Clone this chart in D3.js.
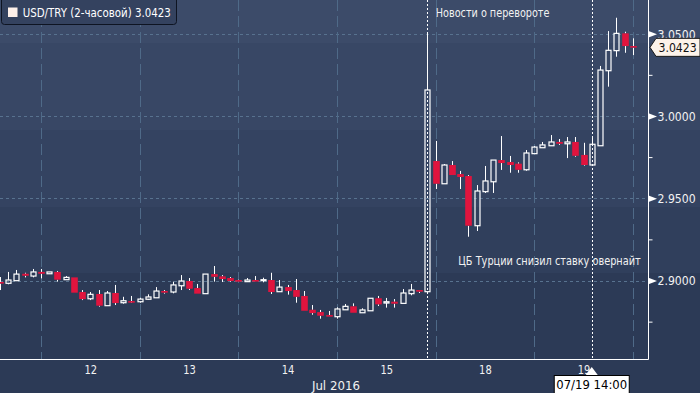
<!DOCTYPE html>
<html><head><meta charset="utf-8">
<script src="https://cdn.jsdelivr.net/npm/d3@7"></script>
<style>
html,body{margin:0;padding:0;background:#2c3a56;}
svg{display:block;}
text{font-family:"DejaVu Sans Condensed","Liberation Sans Narrow","DejaVu Sans",sans-serif;}
</style></head>
<body>
<svg id="c" width="700" height="393"></svg>
<script>
// ---- data ----
const seriesName = "USD/TRY (2-часовой)";
const open  = [2.8991,2.8983,2.8999,2.9041,2.9027,2.9052,2.9041,2.9052,2.9005,2.9019,2.8930,2.8889,2.8918,2.8847,2.8924,2.8865,2.8875,2.8871,2.8886,2.8895,2.8936,2.8930,2.8968,2.8997,2.8954,2.8920,2.9039,2.9025,2.9015,2.9003,2.8993,2.9003,2.9001,2.9003,2.8932,2.8960,2.8942,2.8906,2.8822,2.8808,2.8790,2.8780,2.8822,2.8843,2.8804,2.8816,2.8892,2.8863,2.8871,2.8861,2.8920,2.8942,2.8932,2.9726,2.9588,2.9702,2.9647,2.9635,2.9333,2.9540,2.9600,2.9732,2.9720,2.9710,2.9673,2.9771,2.9807,2.9819,2.9842,2.9831,2.9842,2.9763,2.9702,2.9819,3.0275,3.0397,3.0502,3.0425];
const high  = [2.9021,2.9052,2.9064,2.9047,2.9070,2.9070,2.9052,2.9058,2.9027,2.9019,2.8942,2.8930,2.8942,2.8936,2.8973,2.8901,2.8906,2.8895,2.8916,2.8960,2.8942,2.8993,2.9033,2.9015,2.8979,2.9039,2.9088,2.9033,2.9021,2.9005,2.9015,2.9027,2.9017,2.9047,2.9003,2.8973,2.9009,2.8936,2.8851,2.8821,2.8815,2.8837,2.8857,2.8861,2.8831,2.8892,2.8906,2.8894,2.8887,2.8948,2.8979,2.8942,3.0510,2.9848,2.9708,2.9726,2.9666,2.9641,2.9580,2.9696,2.9732,2.9878,2.9757,2.9718,2.9793,2.9817,2.9842,2.9884,2.9860,2.9872,2.9872,2.9837,2.9878,3.0304,3.0516,3.0597,3.0512,3.0472];
const low   = [2.8942,2.8977,2.8999,2.9019,2.9019,2.9013,2.9041,2.8993,2.9003,2.8926,2.8881,2.8881,2.8841,2.8847,2.8851,2.8859,2.8869,2.8865,2.8883,2.8895,2.8920,2.8922,2.8942,2.8942,2.8920,2.8920,2.8993,2.8991,2.8993,2.8993,2.8991,2.8993,2.8989,2.8918,2.8932,2.8914,2.8865,2.8816,2.8792,2.8768,2.8780,2.8768,2.8821,2.8804,2.8804,2.8816,2.8845,2.8835,2.8835,2.8861,2.8910,2.8924,2.8932,2.9556,2.9588,2.9641,2.9556,2.9266,2.9301,2.9532,2.9532,2.9672,2.9655,2.9655,2.9667,2.9771,2.9807,2.9819,2.9824,2.9744,2.9752,2.9698,2.9702,2.9819,3.0178,3.0360,3.0384,3.0370];
const close = [2.8982,2.9003,2.9039,2.9029,2.9052,2.9041,2.9052,2.9005,2.9019,2.8926,2.8887,2.8916,2.8847,2.8924,2.8863,2.8877,2.8871,2.8887,2.8900,2.8936,2.8932,2.8973,2.8997,2.8950,2.8920,2.9039,2.9023,2.9009,2.8997,2.8993,2.9003,2.8999,2.9005,2.8930,2.8960,2.8936,2.8901,2.8816,2.8802,2.8786,2.8786,2.8827,2.8843,2.8804,2.8821,2.8892,2.8855,2.8871,2.8859,2.8924,2.8942,2.8932,3.0158,2.9588,2.9702,2.9641,2.9629,2.9333,2.9544,2.9605,2.9732,2.9714,2.9702,2.9673,2.9775,2.9811,2.9824,2.9842,2.9831,2.9842,2.9758,2.9702,2.9828,3.0279,3.0399,3.0502,3.0425,3.0423];
const dayLabels = ["12","13","14","15","18","19"];
const dayCenterIdx = [11,23,35,47,59,71];
const dayBoundaryIdx = [5,17,29,41,53,65,77];
const monthLabel = "Jul 2016";
const yMajor = [2.90,2.95,3.00,3.05];
const yMinor = [2.875,2.925,2.975,3.025];
const newsIdx = 52, newsText = "Новости о перевороте";
const cbText = "ЦБ Турции снизил ставку овернайт";
const crossIdx = 72, crossLabel = "07/19 14:00";

// ---- layout ----
const svg = d3.select("#c");
const plotR = 648.5, plotB = 359.5;
const x = d3.scaleLinear().domain([0,77]).range([-0.1,632.84]);
const y = d3.scaleLinear().domain([2.85229,3.07048]).range([359,0]);
const RED = "#e0143e";

// background bands
const bands = [[0,43,"#3c4b69"],[43,130,"#384765"],[130,207,"#344361"],[207,273,"#303f5c"],[273,393,"#2c3a56"]];
svg.selectAll("rect.bg").data(bands).join("rect").attr("class","bg")
  .attr("x",0).attr("y",d=>d[0]).attr("width",700).attr("height",d=>d[1]-d[0]).attr("fill",d=>d[2]);

// grid
const g = svg.append("g");
g.selectAll("line.hg").data(yMajor).join("line")
  .attr("x1",0).attr("x2",plotR).attr("y1",d=>Math.round(y(d))+0.5).attr("y2",d=>Math.round(y(d))+0.5)
  .attr("stroke","#58728f").attr("stroke-dasharray","3,3").attr("stroke-width",1);
g.selectAll("line.vg").data(dayBoundaryIdx).join("line")
  .attr("x1",d=>Math.round(x(d))+0.5).attr("x2",d=>Math.round(x(d))+0.5).attr("y1",0).attr("y2",plotB)
  .attr("stroke","#4f6a88").attr("stroke-dasharray","11,5").attr("stroke-width",1);

// dotted event lines
[newsIdx, crossIdx].forEach(i=>{
  svg.append("line").attr("x1",Math.round(x(i))+0.5).attr("x2",Math.round(x(i))+0.5)
    .attr("y1",0).attr("y2",plotB).attr("stroke","#ffffff").attr("stroke-width",1).attr("stroke-dasharray","2,2");
});

// candles
const data = open.map((o,i)=>({i,o,h:high[i],l:low[i],c:close[i]}));
const cg = svg.append("g");
data.forEach(d=>{
  const cx = Math.round(x(d.i))+0.5;
  const up = d.c >= d.o;
  const top = y(Math.max(d.o,d.c)), bot = y(Math.min(d.o,d.c));
  let bh = Math.max(up?1.0:1.6, bot-top);
  const yt = up ? top : top;
  // wicks
  cg.append("line").attr("x1",cx).attr("x2",cx).attr("y1",y(d.h)).attr("y2",yt)
    .attr("stroke","#fff").attr("stroke-width",1);
  cg.append("line").attr("x1",cx).attr("x2",cx).attr("y1",yt+bh).attr("y2",y(d.l))
    .attr("stroke","#fff").attr("stroke-width",1);
  if(up){
    cg.append("rect").attr("x",cx-2.5).attr("y",yt).attr("width",5).attr("height",bh)
      .attr("fill","none").attr("stroke","#fff").attr("stroke-width",1.2);
  } else {
    cg.append("rect").attr("x",cx-3.3).attr("y",yt).attr("width",6.6).attr("height",bh)
      .attr("fill",RED);
  }
});

// frame
svg.append("line").attr("x1",0).attr("x2",plotR).attr("y1",plotB).attr("y2",plotB).attr("stroke","#fff");
svg.append("line").attr("x1",plotR).attr("x2",plotR).attr("y1",0).attr("y2",plotB).attr("stroke","#fff");

function fitText(sel, perChar){ sel.each(function(){ const t=d3.select(this); const s=t.text(); t.attr("textLength",s.length*perChar).attr("lengthAdjust","spacingAndGlyphs"); }); }

// right axis
const yAx = d3.axisRight(y).tickValues(yMajor).tickFormat(d3.format(".4f")).tickSize(0).tickPadding(9);
const ya = svg.append("g").attr("transform",`translate(${plotR},0)`).call(yAx);
ya.select(".domain").remove();
ya.selectAll(".tick text").attr("fill","#f2f2f2").attr("font-size","12px").attr("dy","0.36em").call(fitText,6.35);
ya.selectAll(".tick").append("path").attr("d","M0,-3.2L8.5,0L0,3.2Z").attr("fill","#fff");
const yMin = d3.axisRight(y).tickValues(yMinor).tickFormat("").tickSize(4);
const ym = svg.append("g").attr("transform",`translate(${plotR},0)`).call(yMin);
ym.select(".domain").remove();
ym.selectAll(".tick line").attr("stroke","#fff");

// bottom axis
const xAx = d3.axisBottom(x).tickValues(dayCenterIdx).tickFormat((d,i)=>dayLabels[i]).tickSize(0).tickPadding(6);
const xa = svg.append("g").attr("transform",`translate(0,${plotB})`).call(xAx);
xa.select(".domain").remove();
xa.selectAll(".tick text").attr("fill","#f2f2f2").attr("font-size","12px").call(fitText,6.3);
svg.append("text").attr("x",x(41)-1).attr("y",390).attr("text-anchor","middle").attr("fill","#f2f2f2")
  .attr("font-size","12px").text(monthLabel).call(fitText,6.0);

// annotations
svg.append("text").attr("x",x(newsIdx)+8.5).attr("y",16.5).attr("fill","#f2f2f2").attr("font-size","12px")
  .text(newsText).call(fitText,5.68);
svg.append("text").attr("x",458.3).attr("y",265).attr("fill","#f2f2f2").attr("font-size","12px")
  .text(cbText).call(fitText,5.7);

// legend
svg.append("rect").attr("x",1.5).attr("y",-4).attr("width",175).attr("height",28.5).attr("rx",3)
  .attr("fill","#34425f").attr("stroke","#0e1422").attr("stroke-width",1);
svg.append("rect").attr("x",8).attr("y",7.5).attr("width",9.5).attr("height",9.5).attr("fill","#fdf0ea");
svg.append("text").attr("x",22.7).attr("y",17).attr("fill","#ffffff").attr("font-size","12px")
  .text(seriesName+" "+d3.format(".4f")(close[close.length-1])).call(fitText,5.7);

// last price label
const ly = y(close[close.length-1])+1;
svg.append("path").attr("d",`M650,${ly}L656,${ly-9}H700V${ly+9}H656Z`).attr("fill","#fdf3ea").attr("stroke","#1a1a1a");
svg.append("text").attr("x",658.5).attr("y",ly+4.3).attr("fill","#111").attr("font-size","12px")
  .text(d3.format(".4f")(close[close.length-1])).call(fitText,6.35);

// crosshair label
const cxp = x(crossIdx);
svg.append("path").attr("d",`M${cxp-6},375L${cxp},367L${cxp+6},375Z`).attr("fill","#fff");
svg.append("rect").attr("x",cxp-37.5).attr("y",375.5).attr("width",75).attr("height",20).attr("fill","#fff").attr("stroke","#000");
svg.append("text").attr("x",cxp).attr("y",389).attr("text-anchor","middle").attr("fill","#000").attr("font-size","12px")
  .text(crossLabel).call(fitText,6.45);
</script>
</body></html>
